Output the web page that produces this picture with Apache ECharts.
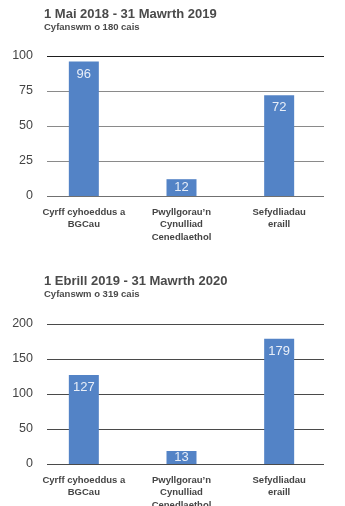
<!DOCTYPE html>
<html>
<head>
<meta charset="utf-8">
<script src="https://cdn.jsdelivr.net/npm/echarts@6/dist/echarts.min.js"></script>
<style>
  html, body { margin: 0; padding: 0; background: #fff; }
  #chart { width: 345px; height: 506px; }
</style>
</head>
<body>
<div id="chart"></div>
<script>
// Request counts by body type, two reporting periods
const categories = ['Cyrff cyhoeddus a\nBGCau', 'Pwyllgorau\u2019n\nCynulliad\nCenedlaethol', 'Sefydliadau\neraill'];
const period1Values = [96, 12, 72];
const period2Values = [127, 13, 179];
const period1Title = '1 Mai 2018 - 31 Mawrth 2019';
const period1Sub = 'Cyfanswm o 180 cais';
const period2Title = '1 Ebrill 2019 - 31 Mawrth 2020';
const period2Sub = 'Cyfanswm o 319 cais';
const period1Axis = { min: 0, max: 100, interval: 25 };
const period2Axis = { min: 0, max: 200, interval: 50 };

const FONT = '"Liberation Sans", Arial, sans-serif';
const BAR = '#5383c6';
const TXT = '#454545';

function titleBlock(text, sub, top) {
  return {
    text: text, subtext: sub, left: 39, top: top, itemGap: 1, padding: [0, 5],
    textStyle: { fontFamily: FONT, fontSize: 13, fontWeight: 'bold', color: '#4a4a4a' },
    subtextStyle: { fontFamily: FONT, fontSize: 9.5, fontWeight: 'bold', color: '#4a4a4a' }
  };
}

// each panel: one grid for the gridlines + y labels, a wider one for the bars
const lineGrid = (top) => ({ left: 47, width: 277, top: top, height: 140, outerBoundsMode: 'none' });
const barGrid = (top) => ({ left: 35, width: 293, top: top, height: 140, outerBoundsMode: 'none' });

function lineY(idx, ax, colors) {
  return {
    type: 'value', gridIndex: idx, min: ax.min, max: ax.max, interval: ax.interval,
    axisLine: { show: false }, axisTick: { show: false },
    axisLabel: { fontFamily: FONT, fontSize: 12.5, color: TXT, margin: 14 },
    splitLine: { lineStyle: { color: colors, width: 1.2 } }
  };
}
function barY(idx, ax) {
  return {
    type: 'value', gridIndex: idx, min: ax.min, max: ax.max, interval: ax.interval,
    show: false, splitLine: { show: false }
  };
}
function lineX(idx) {
  return { type: 'category', gridIndex: idx, data: categories, show: false };
}
function barX(idx) {
  return {
    type: 'category', gridIndex: idx, data: categories,
    axisLine: { show: false }, axisTick: { show: false },
    axisLabel: {
      fontFamily: FONT, fontSize: 9.5, fontWeight: 'bold', color: TXT,
      margin: 10, lineHeight: 12.5, interval: 0
    },
    splitLine: { show: false }
  };
}
// short bars carry their value centred rather than at the top
function barSeries(idx, values, ax) {
  const data = values.map(v => v < ax.max * 0.2
    ? { value: v, label: { position: 'inside' } }
    : v);
  return {
    type: 'bar', xAxisIndex: idx, yAxisIndex: idx, data: data,
    barWidth: 30, barMinHeight: 13,
    itemStyle: { color: BAR },
    label: {
      show: true, position: 'insideTop', distance: 6,
      fontFamily: FONT, fontSize: 13, color: '#e8eef8'
    },
    silent: true
  };
}

const chart = echarts.init(document.getElementById('chart'), null, { renderer: 'canvas' });
chart.setOption({
  animation: false,
  backgroundColor: '#fff',
  title: [titleBlock(period1Title, period1Sub, 8), titleBlock(period2Title, period2Sub, 275)],
  grid: [lineGrid(56), barGrid(56), lineGrid(324), barGrid(324)],
  xAxis: [lineX(0), barX(1), lineX(2), barX(3)],
  yAxis: [
    lineY(0, period1Axis, ['#707070', '#8a8a8a', '#8a8a8a', '#8a8a8a', '#1e1e1e']),
    barY(1, period1Axis),
    lineY(2, period2Axis, ['#4a4a4a', '#4a4a4a', '#4a4a4a', '#4a4a4a', '#4a4a4a']),
    barY(3, period2Axis)
  ],
  series: [barSeries(1, period1Values, period1Axis), barSeries(3, period2Values, period2Axis)]
});
</script>
</body>
</html>
